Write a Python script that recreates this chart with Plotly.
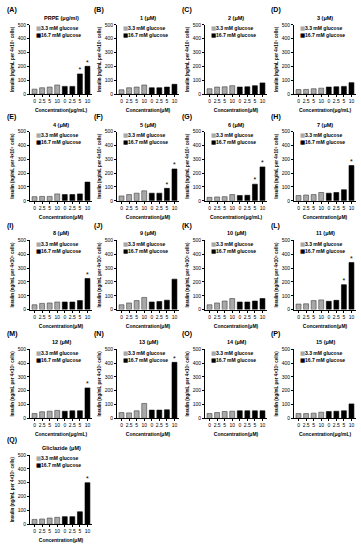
import plotly.graph_objects as go

# ---------------- data ----------------
panel_labels = ["(A)", "(B)", "(C)", "(D)", "(E)", "(F)", "(G)", "(H)", "(I)",
                "(J)", "(K)", "(L)", "(M)", "(N)", "(O)", "(P)", "(Q)"]
panel_titles = ["PRPE (μg/ml)", "1 (μM)", "2 (μM)", "3 (μM)", "4 (μM)", "5 (μM)",
                "6 (μM)", "7 (μM)", "8 (μM)", "9 (μM)", "10 (μM)", "11 (μM)",
                "12 (μM)", "13 (μM)", "14 (μM)", "15 (μM)", "Gliclazide (μM)"]
x_units = ["μg/mL", "μM", "μM", "μg/mL", "μM", "μM", "μg/mL", "μM", "μM",
           "μM", "μM", "μM", "μg/mL", "μM", "μM", "μg/mL", "μM"]
conc_labels = ["0", "2.5", "5", "10", "0", "2.5", "5", "10"]
series_names = ["3.3 mM glucose", "16.7 mM glucose"]

glucose_3_3 = [
    [35, 45, 50, 65], [30, 45, 50, 65], [38, 50, 52, 60], [32, 33, 38, 42],
    [30, 32, 32, 50], [35, 45, 55, 72], [25, 28, 30, 45], [38, 42, 45, 60],
    [35, 45, 48, 55], [35, 48, 65, 88], [35, 48, 62, 80], [40, 42, 65, 70],
    [35, 48, 52, 58], [42, 40, 55, 108], [35, 42, 50, 52], [35, 35, 38, 45],
    [35, 38, 45, 50],
]
glucose_16_7 = [
    [55, 55, 145, 200], [45, 45, 50, 70], [50, 52, 60, 80], [50, 52, 55, 82],
    [45, 45, 50, 135], [55, 55, 90, 230], [38, 40, 120, 245], [55, 60, 80, 255],
    [55, 55, 65, 225], [55, 58, 68, 220], [55, 55, 62, 80], [60, 67, 180, 340],
    [52, 55, 55, 220], [60, 60, 62, 405], [55, 55, 55, 55], [50, 52, 55, 105],
    [55, 55, 90, 300],
]
significant_16_7 = [
    [0, 0, 1, 1], [0, 0, 0, 0], [0, 0, 0, 0], [0, 0, 0, 0],
    [0, 0, 0, 0], [0, 0, 1, 1], [0, 0, 1, 1], [0, 0, 0, 1],
    [0, 0, 0, 1], [0, 0, 0, 0], [0, 0, 0, 0], [0, 0, 1, 1],
    [0, 0, 0, 1], [0, 0, 0, 1], [0, 0, 0, 0], [0, 0, 0, 0],
    [0, 0, 0, 1],
]
y_ticks = [0, 100, 200, 300, 400, 500]

# ---------------- layout geometry (pixels) ----------------
W, H = 361, 550
col_axis_x = [30, 117, 205, 294]
plot_w = 62
row_top_y = [22, 130, 240, 350, 457]
plot_h = 70

FONT = "Arial, Liberation Sans, sans-serif"
GRAY = "#A8A8A8"
fig = go.Figure()
annotations = []
layout_axes = {}

for i in range(17):
    k = i + 1
    r, c = divmod(i, 4)
    xs = "" if k == 1 else str(k)
    xref, yref = "x" + xs, "y" + xs
    x0 = col_axis_x[c]
    y0 = row_top_y[r]
    xdom = [x0 / W, (x0 + plot_w) / W]
    ydom = [1 - (y0 + plot_h) / H, 1 - y0 / H]

    fig.add_trace(go.Bar(
        x=list(range(4)), y=glucose_3_3[i], xaxis=xref, yaxis=yref,
        marker=dict(color=GRAY, line=dict(color="#404040", width=0.6)),
        showlegend=False, width=0.65, name=series_names[0],
    ))
    fig.add_trace(go.Bar(
        x=list(range(4, 8)), y=glucose_16_7[i], xaxis=xref, yaxis=yref,
        marker=dict(color="#000000", line=dict(color="#000000", width=0.6)),
        showlegend=False, width=0.65, name=series_names[1],
    ))
    stars = [j + 4 for j, s in enumerate(significant_16_7[i]) if s]
    if stars:
        fig.add_trace(go.Scatter(
            x=stars, y=[glucose_16_7[i][s - 4] for s in stars],
            xaxis=xref, yaxis=yref, mode="text", text=["*"] * len(stars),
            textposition="top center", cliponaxis=False,
            textfont=dict(size=7, color="black", family=FONT),
            showlegend=False, hoverinfo="skip",
        ))

    layout_axes["xaxis" + xs] = dict(
        domain=xdom, anchor=yref, range=[-0.6, 7.6],
        tickmode="array", tickvals=list(range(8)), ticktext=conc_labels,
        tickfont=dict(size=5, family=FONT, color="black"),
        showline=True, linecolor="black", linewidth=0.8,
        ticks="outside", ticklen=2, tickwidth=0.6, tickcolor="black",
        showgrid=False, zeroline=False,
        title=dict(text="<b>Concentration(" + x_units[i] + ")</b>",
                   font=dict(size=5, family=FONT, color="black"), standoff=5),
    )
    layout_axes["yaxis" + xs] = dict(
        domain=ydom, anchor=xref, range=[0, 500],
        tickmode="array", tickvals=y_ticks,
        tickfont=dict(size=5, family=FONT, color="black"),
        showline=True, linecolor="black", linewidth=0.8,
        ticks="outside", ticklen=2, tickwidth=0.6, tickcolor="black",
        showgrid=False, zeroline=False,
        title=dict(text="<b>Insulin (ng/mL per 4×10⁵ cells)</b>",
                   font=dict(size=4.5, family=FONT, color="black"), standoff=3),
    )

    # panel label
    annotations.append(dict(
        text="<b>" + panel_labels[i] + "</b>", xref="paper", yref="paper",
        x=(x0 - 25) / W, y=1 - (y0 - 15) / H, xanchor="left", yanchor="middle",
        showarrow=False, font=dict(size=7, family=FONT, color="black"),
    ))
    # panel title
    annotations.append(dict(
        text="<b>" + panel_titles[i] + "</b>", xref=xref + " domain", yref=yref + " domain",
        x=0.5, y=1.0, xanchor="center", yanchor="bottom", yshift=2,
        showarrow=False, font=dict(size=5.5, family=FONT, color="black"),
    ))
    # legend (square + label)
    for name, col, ly in zip(series_names, [GRAY, "#000000"], [0.95, 0.85]):
        annotations.append(dict(
            text="■", xref=xref + " domain", yref=yref + " domain",
            x=0.06, y=ly, xanchor="left", yanchor="middle",
            showarrow=False, font=dict(size=5.5, family="DejaVu Sans", color=col),
        ))
        annotations.append(dict(
            text="<b>" + name + "</b>", xref=xref + " domain", yref=yref + " domain",
            x=0.15, y=ly, xanchor="left", yanchor="middle",
            showarrow=False, font=dict(size=5, family=FONT, color="black"),
        ))

fig.update_layout(
    width=W, height=H, margin=dict(l=0, r=0, t=0, b=0),
    paper_bgcolor="white", plot_bgcolor="white",
    barmode="overlay", showlegend=False,
    annotations=annotations, font=dict(family=FONT, color="black"),
    **layout_axes,
)

fig.write_html("out.html", config={"displayModeBar": False},
               post_script="document.body.style.margin='0';document.body.style.overflow='hidden';")
